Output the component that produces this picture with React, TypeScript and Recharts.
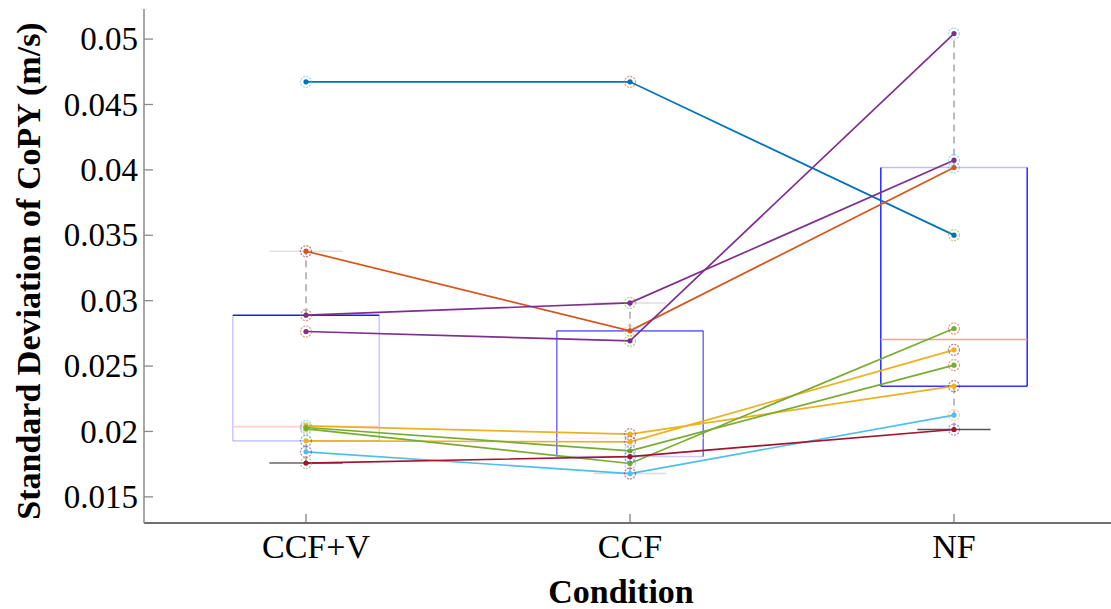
import { ComposedChart, Line, XAxis, YAxis, ReferenceLine } from 'recharts';

const CATEGORIES = ['CCF+V', 'CCF', 'NF'];
const Y_TICKS = [0.015, 0.02, 0.025, 0.03, 0.035, 0.04, 0.045, 0.05];

// one array per subject: CCF+V, CCF, NF
const S1 = [0.04673, 0.04673, 0.03501];
const S2 = [0.03378, 0.02769, 0.04018];
const S3 = [0.02889, 0.02983, 0.04074];
const S4 = [0.02764, 0.02693, 0.05042];
const S5 = [0.02043, 0.01979, 0.02346];
const S6 = [0.01928, 0.0192, 0.02624];
const S7 = [0.0203, 0.01852, 0.02507];
const S8 = [0.0202, 0.01755, 0.02787];
const S9 = [0.01844, 0.01678, 0.02125];
const S10 = [0.01758, 0.01808, 0.02015];

// boxplot stats per condition
const Q1 = [0.01928, 0.01808, 0.02346];
const MEDIAN = [0.02037, 0.0195, 0.02703];
const Q3 = [0.02889, 0.02769, 0.04018];
const WHISKER_LOW = [0.01758, 0.01678, 0.02015];
const WHISKER_HIGH = [0.03378, 0.02983, 0.05042];

const BLUE = '#0072BD';
const ORANGE = '#D95319';
const YELLOW = '#EDB120';
const PURPLE = '#7E2F8E';
const GREEN = '#77AC30';
const LBLUE = '#4DBEEE';
const RED = '#A2142F';

const SUBJECTS = [S1, S2, S3, S4, S5, S6, S7, S8, S9, S10];
const COLORS = [BLUE, ORANGE, PURPLE, PURPLE, YELLOW, YELLOW, GREEN, GREEN, LBLUE, RED];
const RINGS = [
    [LBLUE, ORANGE, GREEN],
    [RED, YELLOW, LBLUE],
    [ORANGE, GREEN, LBLUE],
    [ORANGE, GREEN, LBLUE],
    [LBLUE, PURPLE, RED],
    [BLUE, PURPLE, RED],
    [YELLOW, LBLUE, ORANGE],
    [LBLUE, LBLUE, ORANGE],
    [PURPLE, RED, YELLOW],
    [GREEN, BLUE, PURPLE],
];

// box edge looks: [top, sides, bottom] opacity
const BOX_EDGES = [
    [0.9, 0.2, 0.2],
    [0.55, 0.55, 0.2],
    [0.25, 0.8, 0.8],
];
const MEDIAN_COLORS = ['#ffcfcf', '#fff0f0', '#ff9a9a'];
const CAP_COLORS = [
    ['#e2e2e2', '#666666'],
    ['#dcdcdc', '#dcdcdc'],
    ['none', '#555555'],
];
const BOX_HALF = 0.226;
const CAP_HALF = 0.113;

const FONT = '"Liberation Serif", "Times New Roman", serif';

const data = CATEGORIES.map((c, i) => {
    const row: Record<string, number | string> = { x: i + 1, name: c };
    SUBJECTS.forEach((s, k) => {
        row['s' + k] = s[i];
    });
    return row;
});

const seg = (x1: number, y1: number, x2: number, y2: number) => [
    { x: x1, y: y1 },
    { x: x2, y: y2 },
];

const SubjectDot = (props: any) => {
    const { cx, cy, color, ring } = props;
    if (cx == null || cy == null) return null;
    return (
        <g>
            <circle cx={cx} cy={cy} r={5.5} fill="none" stroke={ring} strokeOpacity={0.55} strokeWidth={1.3} strokeDasharray="2 1.2" />
            <circle cx={cx} cy={cy} r={2.6} fill={color} />
        </g>
    );
};

const LeftTick = (props: any) => {
    const { x, y, payload } = props;
    return (
        <g>
            <line x1={x + 6} y1={y} x2={x + 15} y2={y} stroke="#8a8a8a" strokeWidth={1.3} />
            <text x={x} y={y} dy="0.34em" textAnchor="end" fontFamily={FONT} fontSize={33} fill="#000">
                {String(payload.value)}
            </text>
        </g>
    );
};

const BottomTick = (props: any) => {
    const { x, y, payload } = props;
    // the first label sits a little right of its tick in the original
    const shift = payload.value === 1 ? 10 : 0;
    return (
        <g>
            <line x1={x} y1={y - 1} x2={x} y2={y - 9} stroke="#777" strokeWidth={1.2} />
            <text x={x + shift} y={y + 35} textAnchor="middle" fontFamily={FONT} fontSize={34} fill="#000">
                {CATEGORIES[payload.value - 1]}
            </text>
        </g>
    );
};

const TopTick = (props: any) => {
    const { x, y } = props;
    return <line x1={x} y1={y + 1} x2={x} y2={y + 9} stroke="#888" strokeWidth={1.2} />;
};

const RightTick = (props: any) => {
    const { x, y } = props;
    return <line x1={x} y1={y} x2={x - 8} y2={y} stroke="#999" strokeWidth={1.3} />;
};

export default function App() {
    const boxes = CATEGORIES.map((_, i) => {
        const c = i + 1;
        const [top, sides, bottom] = BOX_EDGES[i];
        const l = c - BOX_HALF;
        const r = c + BOX_HALF;
        return [
            <ReferenceLine key={`wu${i}`} segment={seg(c, Q3[i], c, WHISKER_HIGH[i])} stroke="#999" strokeWidth={1.3} strokeDasharray="7 5" />,
            <ReferenceLine key={`wl${i}`} segment={seg(c, WHISKER_LOW[i], c, Q1[i])} stroke="#999" strokeWidth={1.3} strokeDasharray="7 5" />,
            <ReferenceLine key={`cu${i}`} segment={seg(c - CAP_HALF, WHISKER_HIGH[i], c + CAP_HALF, WHISKER_HIGH[i])} stroke={CAP_COLORS[i][0]} strokeWidth={1.5} />,
            <ReferenceLine key={`cl${i}`} segment={seg(c - CAP_HALF, WHISKER_LOW[i], c + CAP_HALF, WHISKER_LOW[i])} stroke={CAP_COLORS[i][1]} strokeWidth={1.5} />,
            <ReferenceLine key={`bt${i}`} segment={seg(l, Q3[i], r, Q3[i])} stroke="#0000ff" strokeOpacity={top} strokeWidth={1.6} />,
            <ReferenceLine key={`bb${i}`} segment={seg(l, Q1[i], r, Q1[i])} stroke="#0000ff" strokeOpacity={bottom} strokeWidth={1.6} />,
            <ReferenceLine key={`bl${i}`} segment={seg(l, Q1[i], l, Q3[i])} stroke="#0000ff" strokeOpacity={sides} strokeWidth={1.6} />,
            <ReferenceLine key={`br${i}`} segment={seg(r, Q1[i], r, Q3[i])} stroke="#0000ff" strokeOpacity={sides} strokeWidth={1.6} />,
            <ReferenceLine key={`md${i}`} segment={seg(l, MEDIAN[i], r, MEDIAN[i])} stroke={MEDIAN_COLORS[i]} strokeWidth={1.6} />,
        ];
    });

    return (
        <div style={{ position: 'absolute', left: 0, top: 0, width: 1111, height: 609, overflow: 'hidden', background: '#fff' }}>
            <ComposedChart width={1120} height={609} data={data} margin={{ top: 9, right: 4, bottom: 0, left: 0 }}>
                <XAxis
                    dataKey="x"
                    type="number"
                    domain={[0.5, 3.5]}
                    ticks={[1, 2, 3]}
                    height={86}
                    tickLine={false}
                    tickSize={0}
                    tickMargin={0}
                    tick={<BottomTick />}
                    axisLine={{ stroke: '#6f6f6f', strokeWidth: 2 }}
                    allowDataOverflow
                    label={(p: any) => (
                        <text x={p.viewBox.x + p.viewBox.width / 2 - 9} y={603} textAnchor="middle" fontFamily={FONT} fontSize={34} fontWeight="bold" fill="#000">
                            Condition
                        </text>
                    )}
                />
                <XAxis
                    xAxisId="top"
                    orientation="top"
                    type="number"
                    domain={[0.5, 3.5]}
                    ticks={[1, 2, 3]}
                    height={0}
                    tickLine={false}
                    tickSize={0}
                    tickMargin={0}
                    tick={<TopTick />}
                    axisLine={{ stroke: '#a8a8a8', strokeWidth: 2 }}
                    allowDataOverflow
                />
                <YAxis
                    type="number"
                    domain={[0.013, 0.0523]}
                    ticks={Y_TICKS}
                    width={144}
                    tickLine={false}
                    tickSize={0}
                    tickMargin={6}
                    tick={<LeftTick />}
                    axisLine={{ stroke: '#8a8a8a', strokeWidth: 1.5 }}
                    allowDataOverflow
                    label={(p: any) => (
                        <text
                            transform={`translate(40, ${p.viewBox.y + p.viewBox.height / 2 + 5}) rotate(-90)`}
                            textAnchor="middle"
                            fontFamily={FONT}
                            fontSize={34}
                            fontWeight="bold"
                            fill="#000"
                        >
                            Standard Deviation of CoPY (m/s)
                        </text>
                    )}
                />
                <YAxis
                    yAxisId="right"
                    orientation="right"
                    type="number"
                    domain={[0.013, 0.0523]}
                    ticks={Y_TICKS}
                    width={0}
                    tickLine={false}
                    tickSize={0}
                    tickMargin={0}
                    tick={<RightTick />}
                    axisLine={{ stroke: '#8a8a8a', strokeWidth: 1.5 }}
                    allowDataOverflow
                />
                {boxes}
                {SUBJECTS.map((_, k) => (
                    <Line
                        key={'s' + k}
                        dataKey={'s' + k}
                        type="linear"
                        stroke={COLORS[k]}
                        strokeWidth={1.7}
                        isAnimationActive={false}
                        activeDot={false}
                        dot={(p: any) => (
                            <SubjectDot key={`d${k}-${p.index}`} {...p} color={COLORS[k]} ring={RINGS[k][p.index]} />
                        )}
                    />
                ))}
            </ComposedChart>
        </div>
    );
}
